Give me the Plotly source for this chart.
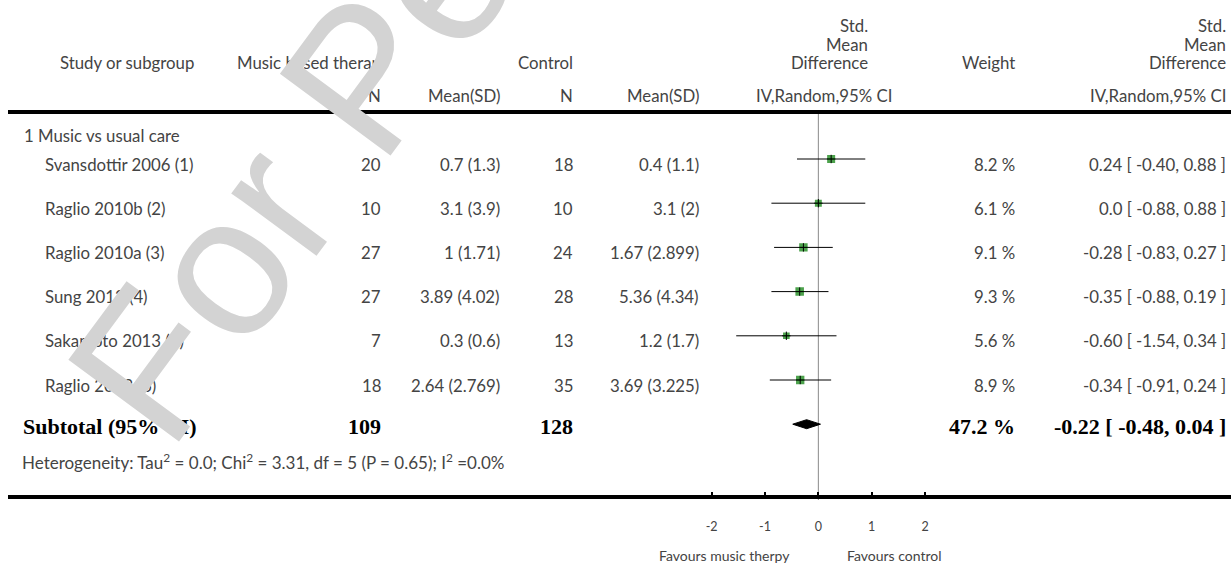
import math
import plotly.graph_objects as go

# ---- data -------------------------------------------------------------
studies = ["Svansdottir 2006 (1)", "Raglio 2010b (2)", "Raglio 2010a (3)",
           "Sung 2012 (4)", "Sakamoto 2013 (5)", "Raglio 2013 (6)"]
music_n = [20, 10, 27, 27, 7, 18]
music_mean = [0.7, 3.1, 1, 3.89, 0.3, 2.64]
music_sd = [1.3, 3.9, 1.71, 4.02, 0.6, 2.769]
control_n = [18, 10, 24, 28, 13, 35]
control_mean = [0.4, 3.1, 1.67, 5.36, 1.2, 3.69]
control_sd = [1.1, 2, 2.899, 4.34, 1.7, 3.225]
weights = [8.2, 6.1, 9.1, 9.3, 5.6, 8.9]
smd = [0.24, 0.0, -0.28, -0.35, -0.60, -0.34]
ci_low = [-0.40, -0.88, -0.83, -0.88, -1.54, -0.91]
ci_high = [0.88, 0.88, 0.27, 0.19, 0.34, 0.24]

subtotal_music_n = 109
subtotal_control_n = 128
subtotal_weight = 47.2
subtotal_smd = -0.22
subtotal_low = -0.48
subtotal_high = 0.04

axis_ticks = [-2, -1, 0, 1, 2]
axis_ticktext = ["-2", "-1", "0", "1", "2"]

group_label = "1 Music vs usual care"
heterogeneity = ("Heterogeneity: Tau<sup>2</sup> = 0.0; Chi<sup>2</sup> = 3.31, "
                 "df = 5 (P = 0.65); I<sup>2</sup> =0.0%")
effect_header = ["Std.", "Mean", "Difference"]
watermark = "For Peer Review"

# ---- layout helpers ---------------------------------------------------
W, H = 1231, 564
ROW0, ROWSTEP = 159.0, 44.2          # pixel centre of first row and row pitch


def px_x(p):
    return p / W


def px_y(p):
    return 1 - p / H


def fmt_est(v):
    return "0.0" if v == 0 else f"{v:.2f}"


def ci_text(e, lo, hi):
    return f"{fmt_est(e)} [ {lo:.2f}, {hi:.2f} ]"


FONT = "Lato, 'Open Sans', sans-serif"
TXT = "#444444"
BOLD = "'Liberation Serif', 'Times New Roman', serif"
FS = 16.8

fig = go.Figure()

rows = list(range(len(studies)))
sub_row = len(studies)

# confidence-interval lines
for i in rows:
    fig.add_trace(go.Scatter(x=[ci_low[i], ci_high[i]], y=[i, i], mode="lines",
                             line=dict(color="black", width=1),
                             hoverinfo="skip", showlegend=False))

# weighted squares with a small cross at the estimate
fig.add_trace(go.Scatter(x=smd, y=rows, mode="markers",
                         marker=dict(symbol="square", color="#007a00",
                                     size=[2.8 * w ** 0.5 for w in weights],
                                     line=dict(width=0)),
                         hoverinfo="skip", showlegend=False))
fig.add_trace(go.Scatter(x=smd, y=rows, mode="markers",
                         marker=dict(symbol="cross-thin", size=6,
                                     line=dict(color="black", width=1)),
                         hoverinfo="skip", showlegend=False))

# pooled diamond
dh = 4.5 / ROWSTEP
fig.add_trace(go.Scatter(
    x=[subtotal_low, subtotal_smd, subtotal_high, subtotal_smd, subtotal_low],
    y=[sub_row, sub_row - dh, sub_row, sub_row + dh, sub_row],
    mode="lines", fill="toself", fillcolor="black",
    line=dict(color="black", width=1), hoverinfo="skip", showlegend=False))

ann = []


def text(x, y, s, xanchor="right", yref="paper", size=FS, font=FONT,
         color=TXT, yshift=0, xref="paper", **kw):
    ann.append(dict(x=x, y=y, xref=xref, yref=yref, text=s, showarrow=False,
                    xanchor=xanchor, yanchor="middle", yshift=yshift,
                    font=dict(family=font, size=size, color=color), **kw))


# column headers
hy1, hy2 = px_y(63), px_y(95)
text(px_x(127), hy1, "Study or subgroup", xanchor="center")
text(px_x(383), hy1, "Music based therap")
text(px_x(575), hy1, "Control")
for k, word in enumerate(effect_header):
    text(px_x(870), px_y(25 + 19 * k), word)
    text(px_x(1228), px_y(25 + 19 * k), word)
text(px_x(1017), hy1, "Weight")
text(px_x(383), hy2, "N")
text(px_x(502), hy2, "Mean(SD)")
text(px_x(575), hy2, "N")
text(px_x(701), hy2, "Mean(SD)")
text(px_x(894), hy2, "IV,Random,95% CI")
text(px_x(1228), hy2, "IV,Random,95% CI")

# group label
text(px_x(22), (135 - ROW0) / ROWSTEP, group_label, xanchor="left", yref="y")

# study rows
for i in rows:
    text(px_x(43), i, studies[i], xanchor="left", yref="y", yshift=-5)
    text(px_x(383), i, str(music_n[i]), yref="y", yshift=-5)
    text(px_x(502), i, f"{music_mean[i]} ({music_sd[i]})", yref="y", yshift=-5)
    text(px_x(575), i, str(control_n[i]), yref="y", yshift=-5)
    text(px_x(701), i, f"{control_mean[i]} ({control_sd[i]})", yref="y", yshift=-5)
    text(px_x(1017), i, f"{weights[i]:.1f} %", yref="y", yshift=-5)
    text(px_x(1228), i, ci_text(smd[i], ci_low[i], ci_high[i]), yref="y", yshift=-5)

# subtotal row
BS = 22
text(px_x(21), sub_row, "<b>Subtotal (95% CI)</b>", xanchor="left", yref="y",
     font=BOLD, size=BS, color="black", yshift=-2)
text(px_x(383), sub_row, f"<b>{subtotal_music_n}</b>", yref="y", font=BOLD,
     size=BS, color="black", yshift=-2)
text(px_x(575), sub_row, f"<b>{subtotal_control_n}</b>", yref="y", font=BOLD,
     size=BS, color="black", yshift=-2)
text(px_x(1017), sub_row, f"<b>{subtotal_weight:.1f} %</b>", yref="y", font=BOLD,
     size=BS, color="black", yshift=-2)
text(px_x(1228), sub_row,
     f"<b>{ci_text(subtotal_smd, subtotal_low, subtotal_high)}</b>",
     yref="y", font=BOLD, size=BS, color="black", yshift=-2)

# heterogeneity line
text(px_x(20), (461 - ROW0) / ROWSTEP, heterogeneity, xanchor="left", yref="y",
     size=17)

# favours labels under the axis
text(-0.5, px_y(555), "Favours music therpy", xref="x", size=14)
text(0.5, px_y(555), "Favours control", xref="x", xanchor="left", size=14)

# diagonal watermark, placed from the foot of the stem of its first letter
WM_SIZE, WM_ANGLE = 200, -53.5
foot = (185, 435)
dvec = (math.cos(math.radians(WM_ANGLE)), math.sin(math.radians(WM_ANGLE)))
uvec = (math.sin(math.radians(WM_ANGLE)), -math.cos(math.radians(WM_ANGLE)))
half_w = 7.446 * WM_SIZE / 2 - 0.125 * WM_SIZE
cx = foot[0] + half_w * dvec[0] + 0.35 * WM_SIZE * uvec[0]
cy = foot[1] + half_w * dvec[1] + 0.35 * WM_SIZE * uvec[1]
ann.append(dict(x=px_x(cx), y=px_y(cy), xref="paper", yref="paper",
                text=watermark, showarrow=False, textangle=WM_ANGLE,
                xanchor="center", yanchor="middle",
                font=dict(family="'Liberation Sans', Arial, sans-serif",
                          size=WM_SIZE, color="#d3d3d3")))

shapes = [
    # rule under column headers and rule above axis labels
    dict(type="line", xref="paper", yref="paper", x0=px_x(8), x1=1,
         y0=px_y(112), y1=px_y(112), line=dict(color="black", width=4)),
    dict(type="line", xref="paper", yref="paper", x0=px_x(8), x1=1,
         y0=px_y(497), y1=px_y(497), line=dict(color="black", width=4)),
    # line of no effect
    dict(type="line", xref="x", yref="paper", x0=0, x1=0,
         y0=px_y(113), y1=px_y(500), line=dict(color="#8a8a8a", width=1),
         layer="below"),
]

fig.update_layout(
    width=W, height=H, margin=dict(l=0, r=0, t=0, b=0),
    paper_bgcolor="white", plot_bgcolor="white",
    annotations=ann, shapes=shapes,
    xaxis=dict(domain=[px_x(701), px_x(935.7)], range=[-2.2, 2.2],
               tickvals=axis_ticks, ticktext=axis_ticktext,
               ticks="inside", ticklen=5, tickwidth=2, tickcolor="black",
               showline=False, showgrid=False, zeroline=False,
               anchor="free", position=px_y(497), ticklabelstandoff=20,
               tickfont=dict(family=FONT, size=12.5, color=TXT),
               fixedrange=True),
    yaxis=dict(domain=[0, 1], range=[(H - ROW0) / ROWSTEP, -ROW0 / ROWSTEP],
               visible=False, fixedrange=True),
)

fig.write_html("out.html")
